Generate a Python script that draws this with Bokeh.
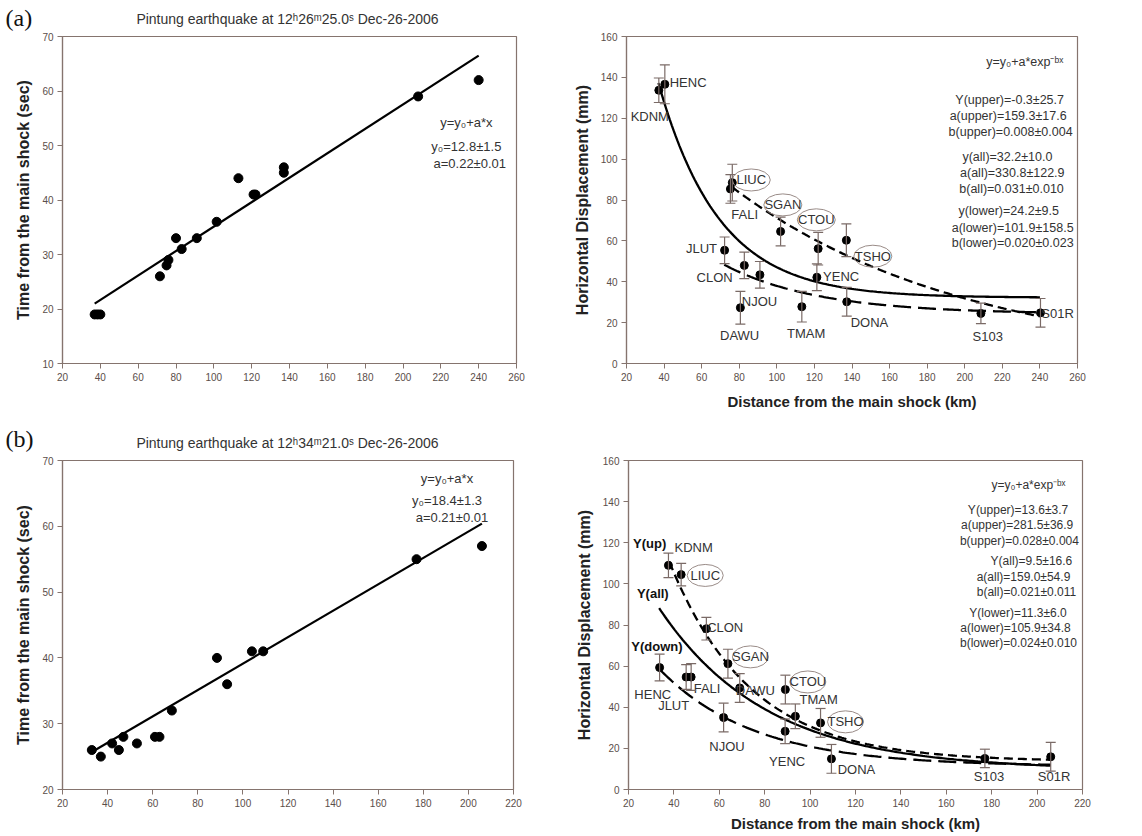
import numpy as np
from bokeh.plotting import figure
from bokeh.layouts import column, row
from bokeh.models import (ColumnDataSource, Range1d, FixedTicker, Whisker, TeeHead)
from bokeh.core.properties import value
from bokeh.embed import file_html
from bokeh.resources import INLINE

FONT = "Liberation Sans"
AXC = "#85746e"
ERRC = "#7a6a66"

# ---------------- Data: panel (a) ----------------
a_title = "Pintung earthquake at 12ʰ26ᵐ25.0ˢ Dec-26-2006"
a_time_x = [37, 38.5, 40, 71.5, 75, 76, 80, 83, 91, 101.5, 113, 121, 122, 137, 137, 208, 240]
a_time_y = [19, 19, 19, 26, 28, 29, 33, 31, 33, 36, 44, 41, 41, 45, 46, 59, 62]
a_line_x = [37, 240]
a_line_y = [21, 66.5]

a_sta = ["KDNM", "HENC", "LIUC", "FALI", "SGAN", "CTOU", "TSHO", "JLUT", "CLON", "NJOU",
         "DAWU", "YENC", "TMAM", "DONA", "S103", "S01R"]
a_dist = [37.2, 40.4, 76.3, 75.3, 102, 122, 137, 72.2, 82.7, 91, 80.6, 121.3, 113.3, 137.2, 208.6, 240.3]
a_disp = [133.7, 136.6, 88.5, 85.4, 64.6, 56.2, 60.3, 55.4, 48, 43.4, 27.3, 42.2, 27.8, 30.2, 24.5, 24.8]
a_err = [6, 9.5, 9, 7, 7, 8, 8, 6.5, 6.5, 6.5, 8, 6.5, 7.5, 7, 5, 7]
a_lab_x = [32.4, 52.8, 86.4, 82.9, 103.2, 121, 151.1, 59.9, 66.9, 90.8, 80.2, 134.2, 115.6, 149.3, 212.2, 249.4]
a_lab_y = [120.7, 137.3, 89.8, 72.8, 77.6, 70.3, 52.5, 56.5, 42.2, 30.5, 13.8, 42.7, 14.8, 20, 13.2, 24.5]
a_circled = ["LIUC", "SGAN", "CTOU", "TSHO"]

# fit parameters (y0, a, b) and x-extent of each curve
a_fit_all = (32.2, 330.8, 0.031)
a_fit_upper = (-0.3, 159.3, 0.008)
a_fit_lower = (24.2, 101.9, 0.020)
a_fit_all_x = (37, 240)
a_fit_upper_x = (76, 240)
a_fit_lower_x = (72, 240)

a_eq_lines = ["Y(upper)=-0.3±25.7", "a(upper)=159.3±17.6", "b(upper)=0.008±0.004",
              "y(all)=32.2±10.0", "a(all)=330.8±122.9", "b(all)=0.031±0.010",
              "y(lower)=24.2±9.5", "a(lower)=101.9±158.5", "b(lower)=0.020±0.023"]
a_eq_y = [129.1, 121.2, 113.4, 101.2, 93.1, 85.4, 74.4, 66.3, 59.0]
a_eq_x = [223.9, 223.1, 224.4, 222.7, 225.3, 224.9, 223.4, 225.5, 225.5]

# ---------------- Data: panel (b) ----------------
b_title = "Pintung earthquake at 12ʰ34ᵐ21.0ˢ Dec-26-2006"
b_time_x = [33, 37, 42, 45, 47, 53, 61, 63, 68.5, 88.5, 93, 104, 109, 177, 206]
b_time_y = [26, 25, 27, 26, 28, 27, 28, 28, 32, 40, 36, 41, 41, 55, 57]
b_line_x = [33, 206]
b_line_y = [25.7, 60.4]

b_sta = ["KDNM", "LIUC", "CLON", "SGAN", "DAWU", "CTOU", "TMAM", "TSHO", "YENC", "HENC",
         "JLUT", "FALI", "NJOU", "DONA", "S103", "S01R"]
b_dist = [37.6, 43.2, 54.3, 63.8, 69, 89.1, 93.5, 104.6, 89, 33.7, 45.4, 47.6, 61.9, 109.4, 177, 206]
b_disp = [109, 104.5, 78.2, 61.2, 49.4, 48.6, 35.6, 32.4, 28.3, 59.3, 54.7, 54.7, 35, 14.9, 15.1, 15.9]
b_err = [6, 5.5, 5.5, 7, 7, 7, 6, 7, 6, 6.5, 6, 6.5, 7, 7, 4.5, 7]
b_lab_x = [48.7, 53.8, 62.6, 73.7, 75.9, 99, 103.8, 115.6, 89.9, 30.7, 39.9, 54.6, 63.4, 120.4, 178.8, 207.5]
b_lab_y = [117.9, 104.1, 78.7, 64.5, 48.3, 52.3, 43.7, 32.9, 13.4, 46.3, 41, 49.1, 21, 9.7, 6.2, 6.5]
b_circled = ["LIUC", "SGAN", "CTOU", "TSHO"]

b_fit_all = (9.5, 159.0, 0.021)
b_fit_upper = (13.6, 281.5, 0.028)
b_fit_lower = (11.3, 105.9, 0.024)
b_fit_all_x = (33.5, 206)
b_fit_upper_x = (38, 206)
b_fit_lower_x = (34, 206)

b_curve_names = ["Y(up)", "Y(all)", "Y(down)"]
b_curve_lab_x = [29.3, 30.7, 32.5]
b_curve_lab_y = [119.5, 95.5, 69.6]

b_eq_lines = ["Y(upper)=13.6±3.7", "a(upper)=281.5±36.9", "b(upper)=0.028±0.004",
              "Y(all)=9.5±16.6", "a(all)=159.0±54.9", "b(all)=0.021±0.011",
              "Y(lower)=11.3±6.0", "a(lower)=105.9±34.8", "b(lower)=0.024±0.010"]
b_eq_y = [136.0, 128.4, 120.8, 111.1, 103.3, 96.0, 86.0, 78.7, 71.4]
b_eq_x = [191.6, 191.2, 192.2, 197.5, 194.0, 195.3, 191.6, 190.5, 191.8]

x_ticks_a = [20, 40, 60, 80, 100, 120, 140, 160, 180, 200, 220, 240, 260]
x_ticks_b = [20, 40, 60, 80, 100, 120, 140, 160, 180, 200, 220]
y_ticks_time_a = [10, 20, 30, 40, 50, 60, 70]
y_ticks_time_b = [20, 30, 40, 50, 60, 70]
y_ticks_disp = [0, 20, 40, 60, 80, 100, 120, 140, 160]


def make_fig(w, h, xr, yr, mb, xticks, yticks, xlabel=None, ylabel=None, xstand=8):
    p = figure(width=w, height=h, x_range=Range1d(*xr), y_range=Range1d(*yr),
               output_backend="svg", toolbar_location=None,
               min_border_left=mb[0], min_border_right=mb[1],
               min_border_top=mb[2], min_border_bottom=mb[3])
    p.grid.visible = False
    p.outline_line_color = AXC
    p.outline_line_width = 1.2
    p.background_fill_color = "white"
    p.border_fill_color = "white"
    for ax in (p.xaxis[0], p.yaxis[0]):
        ax.axis_line_color = AXC
        ax.axis_line_width = 1.2
        ax.major_tick_line_color = AXC
        ax.major_tick_out = 5
        ax.major_tick_in = 0
        ax.minor_tick_line_color = None
        ax.major_label_text_font = FONT
        ax.major_label_text_font_size = "10px"
        ax.major_label_text_color = "#5a4e4a"
        ax.axis_label_text_font = FONT
        ax.axis_label_text_font_style = "bold"
        ax.axis_label_text_color = "#222222"
    p.xaxis.axis_label_text_font_size = "15px"
    p.yaxis.axis_label_text_font_size = "16px"
    p.xaxis.ticker = FixedTicker(ticks=xticks)
    p.yaxis.ticker = FixedTicker(ticks=yticks)
    p.xaxis.major_label_standoff = 4
    p.yaxis.major_label_standoff = 4
    p.xaxis.axis_label_standoff = xstand
    p.yaxis.axis_label_standoff = 7
    if xlabel:
        p.xaxis.axis_label = xlabel
    if ylabel:
        p.yaxis.axis_label = ylabel
    return p


def add_txt(p, x, y, t, size="12px", align="center", bold=False, color="#333333", font=FONT):
    src = ColumnDataSource(dict(x=x, y=y, t=t))
    p.text("x", "y", text="t", source=src, text_align=align, text_baseline="middle",
           text_font=value(font), text_font_size=size, text_color=color,
           text_font_style="bold" if bold else "normal")


def header(w, h, tag, tag_x, tag_y, title, title_x, title_y):
    # a strip above each row of panels, in pixel coordinates (y downward)
    p = figure(width=w, height=h, x_range=Range1d(0, w), y_range=Range1d(h, 0),
               output_backend="svg", toolbar_location=None,
               x_axis_location=None, y_axis_location=None,
               min_border=0, outline_line_color=None)
    p.grid.visible = False
    add_txt(p, [tag_x], [tag_y], [tag], size="24px", align="left", color="#111111",
            font="Liberation Serif")
    add_txt(p, [title_x], [title_y], [title], size="14px", color="#333333")
    return p


def time_panel(w, h, mb, xr, yr, xt, yt, xs, ys, lx, ly, eq, eqx, eqy):
    p = make_fig(w, h, xr, yr, mb, xt, yt, ylabel="Time from the main shock (sec)")
    p.line(lx, ly, line_color="black", line_width=2.2)
    p.scatter(xs, ys, size=9, color="black")
    add_txt(p, eqx, eqy, eq, size="13px")
    return p


def disp_panel(w, h, mb, xr, xt, sta, dist, disp, err, labx, laby, circled, fits, eqx, eqy, eq,
               eqhead, xstand, eqsize, ell_w):
    p = make_fig(w, h, xr, (0, 160), mb, xt, y_ticks_disp,
                 xlabel="Distance from the main shock (km)",
                 ylabel="Horizontal Displacement (mm)", xstand=xstand)
    src = ColumnDataSource(dict(x=dist, up=[d + e for d, e in zip(disp, err)],
                                lo=[d - e for d, e in zip(disp, err)]))
    p.add_layout(Whisker(base="x", upper="up", lower="lo", source=src,
                         line_color=ERRC, line_width=1.2, level="glyph",
                         upper_head=TeeHead(size=10, line_color=ERRC, line_width=1.2),
                         lower_head=TeeHead(size=10, line_color=ERRC, line_width=1.2)))
    for (y0, a, b), (x0, x1), dash in fits:
        xx = np.linspace(x0, x1, 200)
        p.line(xx, y0 + a * np.exp(-b * xx), line_color="black", line_width=2.3, line_dash=dash)
    p.scatter(dist, disp, size=8, color="black")
    cx = [labx[sta.index(s)] for s in circled]
    cy = [laby[sta.index(s)] for s in circled]
    p.ellipse(cx, cy, width=ell_w, height=22, width_units="screen", height_units="screen",
              fill_color=None, line_color="#9a8c88", line_width=1)
    add_txt(p, labx, laby, sta, size="13px")
    add_txt(p, eqx, eqy, eq, size=eqsize)
    add_txt(p, [eqhead[0]], [eqhead[1]], ["y=y₀+a*exp⁻ᵇˣ"], size=eqsize)
    return p


WL, WR = 570, 570
HA, H1, HB, H2 = 32, 380, 40, 382

head_a = header(WL + WR, HA, "(a)", 5, 17, a_title, 287, 18)

p1 = time_panel(WL, H1, (62, 54, 4, 48), (20, 260), (10, 70), x_ticks_a, y_ticks_time_a,
                a_time_x, a_time_y, a_line_x, a_line_y,
                ["y=y₀+a*x", "y₀=12.8±1.5", "a=0.22±0.01"], [233.5, 233.5, 235.3], [54.3, 49.8, 46.7])

p2 = disp_panel(WR, H1, (55, 63, 4, 48), (20, 260), x_ticks_a, a_sta, a_dist, a_disp, a_err,
                a_lab_x, a_lab_y, a_circled,
                [(a_fit_all, a_fit_all_x, "solid"), (a_fit_upper, a_fit_upper_x, "9 5"),
                 (a_fit_lower, a_fit_lower_x, "18 7")],
                a_eq_x, a_eq_y, a_eq_lines, (231.9, 147.5), 9, "12.5px", 38)

head_b = header(WL + WR, HB, "(b)", 5, 26, b_title, 287, 30)

p3 = time_panel(WL, H2, (62, 57, 8, 45), (20, 220), (20, 70), x_ticks_b, y_ticks_time_b,
                b_time_x, b_time_y, b_line_x, b_line_y,
                ["y=y₀+a*x", "y₀=18.4±1.3", "a=0.21±0.01"], [190.5, 190.5, 192.7], [67.2, 63.9, 61.4])

p4 = disp_panel(WR, H2, (58, 58, 8, 45), (20, 220), x_ticks_b, b_sta, b_dist, b_disp, b_err,
                b_lab_x, b_lab_y, b_circled,
                [(b_fit_all, b_fit_all_x, "solid"), (b_fit_upper, b_fit_upper_x, "9 5"),
                 (b_fit_lower, b_fit_lower_x, "18 7")],
                b_eq_x, b_eq_y, b_eq_lines, (196.2, 147.9), 5, "12px", 36)
add_txt(p4, b_curve_lab_x, b_curve_lab_y, b_curve_names, size="13px", bold=True, color="#111111")

layout = column(head_a, row(p1, p2), head_b, row(p3, p4))
open("out.html", "w").write(file_html(layout, INLINE))
